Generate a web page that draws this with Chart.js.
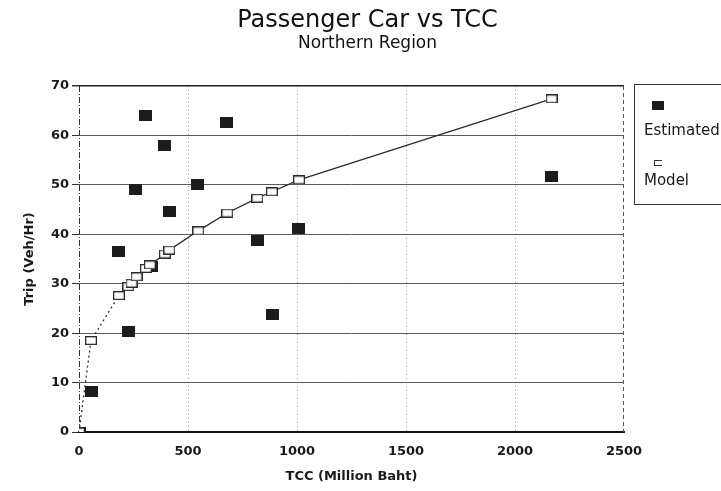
<!DOCTYPE html>
<html>
<head>
<meta charset="utf-8">
<script src="https://cdn.jsdelivr.net/npm/chart.js@4/dist/chart.umd.min.js"></script>
<style>
html,body{margin:0;padding:0;background:#fff;overflow:hidden;}
#wrap{position:relative;width:721px;height:491px;overflow:hidden;}
#legend{position:absolute;left:634px;top:84px;width:110px;height:121px;border:1px solid #333;box-sizing:border-box;}
.lb{position:absolute;font-family:"DejaVu Sans",sans-serif;font-size:15px;line-height:18px;color:#1a1a1a;white-space:nowrap;}
.mk{position:absolute;box-sizing:border-box;}
</style>
</head>
<body>
<div id="wrap">
<canvas id="c" width="721" height="491"></canvas>
<div id="legend"></div>
</div>
<script>
// ---- data ----
const titleText = "Passenger Car vs TCC";
const subtitleText = "Northern Region";
const xTitle = "TCC (Million Baht)";
const yTitle = "Trip (Veh/Hr)";
const seriesNames = ["Estimated", "Model"];
const xTicks = [0, 500, 1000, 1500, 2000, 2500];
const yTicks = [0, 10, 20, 30, 40, 50, 60, 70];
const estX = [0, 58, 183, 228, 261, 307, 333, 391, 414, 544, 676, 818, 887, 1009, 2168];
const estY = [0, 8.2, 36.5, 20.3, 49.0, 64.0, 33.4, 58.0, 44.6, 50.1, 62.7, 38.7, 23.7, 41.2, 51.6];
const modX = [0, 55, 183, 226, 241, 264, 307, 325, 394, 414, 547, 680, 818, 885, 1009, 2168];
const modY = [0, 18.5, 27.6, 29.4, 30.1, 31.4, 33.1, 33.8, 36.0, 36.8, 40.7, 44.3, 47.3, 48.6, 51.0, 67.4];

// ---- marker images ----
function marker(w, h, fill, stroke, lw) {
  const c = document.createElement('canvas');
  c.width = w; c.height = h;
  const g = c.getContext('2d');
  if (fill) { g.fillStyle = fill; g.fillRect(0, 0, w, h); }
  if (stroke) { g.strokeStyle = stroke; g.lineWidth = lw; g.strokeRect(lw/2, lw/2, w - lw, h - lw); }
  return c;
}
const estMarker = marker(13, 11, '#1c1c1c', null, 0);
const modMarker = marker(12, 9, '#ffffff', '#2a2a2a', 1.3);

const FONT = '"DejaVu Sans", sans-serif';

const framePlugin = {
  id: 'frame',
  beforeDatasetsDraw(chart) {
    const {ctx, chartArea: {left, right, top, bottom}} = chart;
    ctx.save();
    ctx.lineWidth = 1;
    ctx.strokeStyle = '#333';
    ctx.setLineDash([6, 2, 1, 2]);
    ctx.beginPath(); ctx.moveTo(left + 0.5, top); ctx.lineTo(left + 0.5, bottom); ctx.stroke();
    ctx.strokeStyle = '#555';
    ctx.setLineDash([4, 3]);
    ctx.beginPath(); ctx.moveTo(right - 0.5, top); ctx.lineTo(right - 0.5, bottom); ctx.stroke();
    ctx.restore();
  }
};

new Chart(document.getElementById('c'), {
  type: 'scatter',
  data: {
    datasets: [
      {
        label: seriesNames[1],
        data: modX.map((x, i) => ({x: x, y: modY[i]})),
        showLine: true,
        borderColor: '#2b2b2b',
        borderWidth: 1.3,
        pointStyle: modMarker,
        pointRadius: 6,
        segment: { borderDash: c => c.p0DataIndex < 2 ? [2, 3] : undefined },
        order: 0
      },
      {
        label: seriesNames[0],
        data: estX.map((x, i) => ({x: x, y: estY[i]})),
        showLine: false,
        pointStyle: estMarker,
        pointRadius: 6,
        order: 1
      }
    ]
  },
  plugins: [framePlugin],
  options: {
    responsive: false,
    animation: false,
    events: [],
    layout: { padding: { left: 14, right: 0, top: 0, bottom: 4 } },
    plugins: {
      legend: { display: false },
      tooltip: { enabled: false },
      title: {
        display: true, text: titleText, color: '#111',
        font: { family: FONT, size: 24, weight: 'normal', lineHeight: 1.0 },
        padding: { top: 9, bottom: 0 }
      },
      subtitle: {
        display: true, text: subtitleText, color: '#111',
        font: { family: FONT, size: 17, weight: 'normal', lineHeight: 1.2 },
        padding: { top: 0, bottom: 32.6 }
      }
    },
    scales: {
      x: {
        type: 'linear', min: xTicks[0], max: xTicks[xTicks.length - 1],
        afterBuildTicks: s => { s.ticks = xTicks.map(v => ({value: v})); },
        afterFit: s => { s.height = 55; },
        ticks: { color: '#1a1a1a', font: { family: FONT, size: 13, weight: 'bold' }, padding: 12, maxRotation: 0,
                 callback: v => String(v) },
        grid: {
          drawTicks: false,
          color: c => (c.tick && (c.tick.value === 0 || c.tick.value === 2500)) ? 'rgba(0,0,0,0)' : '#9a9a9a',
          lineWidth: 1
        },
        border: { display: true, color: '#111', width: 2, dash: [1, 3] },
        title: { display: true, text: xTitle, color: '#1a1a1a', font: { family: FONT, size: 13, weight: 'bold' }, padding: { top: 0, bottom: 3 } }
      },
      y: {
        type: 'linear', min: yTicks[0], max: yTicks[yTicks.length - 1],
        afterBuildTicks: s => { s.ticks = yTicks.map(v => ({value: v})); },
        afterFit: s => { s.width = 65; },
        ticks: { color: '#1a1a1a', font: { family: FONT, size: 13, weight: 'bold' }, padding: 3, callback: v => String(v) },
        grid: {
          drawTicks: true, tickLength: 7, tickColor: '#333',
          color: c => !c.tick ? '#555' : (c.tick.value === 0 ? 'rgba(0,0,0,0)' : (c.tick.value === 70 ? '#222' : '#5a5a5a')),
          lineWidth: c => (c.tick && c.tick.value === 70) ? 1.5 : 1
        },
        border: { display: false },
        title: { display: true, text: yTitle, color: '#1a1a1a', font: { family: FONT, size: 13, weight: 'bold' }, padding: { top: 8, bottom: 0 } }
      },
      y2: {
        type: 'linear', position: 'right', display: true,
        grid: { display: false, drawTicks: false },
        border: { display: false },
        ticks: { display: false },
        afterFit: s => { s.width = 97; }
      }
    }
  }
});

// ---- legend (HTML) ----
(function () {
  const lg = document.getElementById('legend');
  const L = 634, T = 84;
  function add(el, x, y) { el.style.left = (x - L - 1) + 'px'; el.style.top = (y - T - 1) + 'px'; lg.appendChild(el); }
  const m1 = document.createElement('div'); m1.className = 'mk';
  m1.style.width = '12px'; m1.style.height = '9px'; m1.style.background = '#1c1c1c';
  add(m1, 652, 101);
  const t1 = document.createElement('div'); t1.className = 'lb'; t1.textContent = seriesNames[0];
  add(t1, 644, 121);
  const m2 = document.createElement('div'); m2.className = 'mk';
  m2.style.width = '8px'; m2.style.height = '6px'; m2.style.border = '1.3px solid #333'; m2.style.borderRight = 'none';
  add(m2, 654, 160);
  const t2 = document.createElement('div'); t2.className = 'lb'; t2.textContent = seriesNames[1];
  add(t2, 644, 171);
})();
</script>
</body>
</html>
